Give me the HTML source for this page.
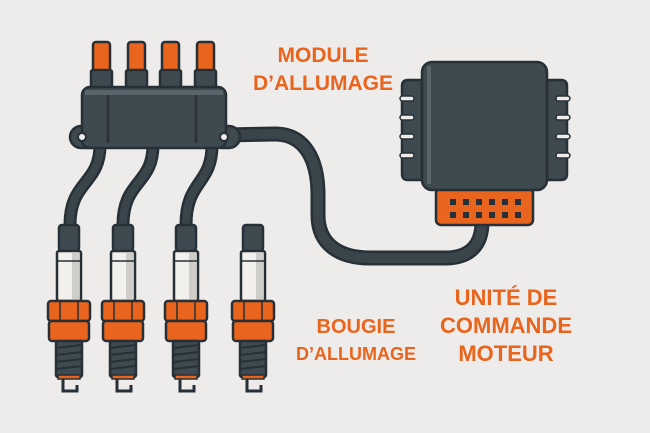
<!DOCTYPE html>
<html><head><meta charset="utf-8"><style>
html,body{margin:0;padding:0;background:#edecea;}
svg{display:block}
text{font-family:"Liberation Sans",sans-serif;font-weight:bold;fill:#e9641c;}
</style></head><body>
<svg width="650" height="433" viewBox="0 0 650 433" xmlns="http://www.w3.org/2000/svg">
<rect width="650" height="433" fill="#edecea"/>
<defs>
<g id="plug">
 <rect x="-10" y="0" width="20" height="26" rx="3" fill="#3f4950" stroke="#263036" stroke-width="2.5"/>
 <rect x="-12" y="26" width="24" height="50" rx="2" fill="#f2f0ec" stroke="#263036" stroke-width="2.5"/>
 <rect x="3" y="28" width="7" height="46" fill="#cfcdc9"/>
 <line x1="-11" y1="36" x2="11" y2="36" stroke="#263036" stroke-width="1.5"/>
 <rect x="-21" y="76" width="42" height="20" rx="3" fill="#e9641c" stroke="#263036" stroke-width="2.5"/>
 <rect x="-20" y="96" width="40" height="20" rx="3" fill="#e9641c" stroke="#263036" stroke-width="2.5"/>
 <line x1="-9" y1="77" x2="-9" y2="95" stroke="#263036" stroke-width="1.5"/>
 <line x1="9" y1="77" x2="9" y2="95" stroke="#263036" stroke-width="1.5"/>
 <rect x="-13" y="116" width="26" height="36" rx="2" fill="#3f4950" stroke="#263036" stroke-width="2.5"/>
 <g stroke="#263036" stroke-width="2">
  <line x1="-13" y1="123" x2="13" y2="120"/><line x1="-13" y1="130" x2="13" y2="127"/>
  <line x1="-13" y1="137" x2="13" y2="134"/><line x1="-13" y1="144" x2="13" y2="141"/>
 </g>
 <rect x="-11" y="150" width="22" height="4" fill="#e9641c" stroke="#263036" stroke-width="1.5"/>
 <path d="M-6,154 L-6,166 L8,166 L8,160" fill="none" stroke="#263036" stroke-width="3"/>
</g>
</defs>
<g fill="none" stroke-linecap="round">
 <path d="M100,145 C100,185 70,180 70,225" stroke="#263036" stroke-width="13"/>
 <path d="M153,145 C153,185 123,180 123,225" stroke="#263036" stroke-width="13"/>
 <path d="M212,145 C212,185 186,180 186,225" stroke="#263036" stroke-width="13"/>
 <path d="M100,145 C100,185 70,180 70,225" stroke="#3a444b" stroke-width="8"/>
 <path d="M153,145 C153,185 123,180 123,225" stroke="#3a444b" stroke-width="8"/>
 <path d="M212,145 C212,185 186,180 186,225" stroke="#3a444b" stroke-width="8"/>
 <path d="M225,135 L275,134 C305,134 318,160 318,195 L318,215 C318,245 340,258 370,258 L445,258 C470,258 482,245 482,222" stroke="#263036" stroke-width="15"/>
 <path d="M225,135 L275,134 C305,134 318,160 318,195 L318,215 C318,245 340,258 370,258 L445,258 C470,258 482,245 482,222" stroke="#3a444b" stroke-width="10"/>
</g>
<g stroke="#263036" stroke-width="2.5">
 <rect x="93" y="42" width="17" height="30" rx="3" fill="#e9641c"/>
 <rect x="128" y="42" width="17" height="30" rx="3" fill="#e9641c"/>
 <rect x="162" y="42" width="17" height="30" rx="3" fill="#e9641c"/>
 <rect x="197" y="42" width="17" height="30" rx="3" fill="#e9641c"/>
 <rect x="91" y="70" width="21" height="20" rx="2" fill="#3f4950"/>
 <rect x="126" y="70" width="21" height="20" rx="2" fill="#3f4950"/>
 <rect x="160" y="70" width="21" height="20" rx="2" fill="#3f4950"/>
 <rect x="195" y="70" width="21" height="20" rx="2" fill="#3f4950"/>
 <rect x="70" y="126" width="30" height="22" rx="11" fill="#3f4950"/>
 <rect x="210" y="126" width="30" height="22" rx="11" fill="#3f4950"/>
 <rect x="82" y="87" width="144" height="61" rx="8" fill="#3f4950"/>
</g>
<circle cx="82" cy="137" r="4" fill="#edecea" stroke="#263036" stroke-width="2"/>
<circle cx="224" cy="137" r="4" fill="#edecea" stroke="#263036" stroke-width="2"/>
<rect x="85" y="90" width="138" height="5" fill="#59646b"/>
<line x1="108" y1="95" x2="108" y2="143" stroke="#2c353b" stroke-width="3"/>
<line x1="196" y1="95" x2="196" y2="143" stroke="#2c353b" stroke-width="3"/>
<use href="#plug" x="69" y="225"/>
<use href="#plug" x="123" y="225"/>
<use href="#plug" x="186" y="225"/>
<use href="#plug" x="253" y="225"/>
<g stroke="#263036" stroke-width="2.5" fill="#3f4950">
 <path d="M422,80 L408,80 Q402,80 402,86 L402,174 Q402,180 408,180 L422,180 Z"/>
 <path d="M547,80 L561,80 Q567,80 567,86 L567,174 Q567,180 561,180 L547,180 Z"/>
 <rect x="436" y="188" width="97" height="37" rx="5" fill="#e9641c"/>
 <rect x="422" y="62" width="125" height="128" rx="10"/>
</g>
<g fill="#edecea" stroke="#263036" stroke-width="1.5">
 <rect x="400" y="96" width="14" height="5" rx="2.5"/><rect x="400" y="115" width="14" height="5" rx="2.5"/>
 <rect x="400" y="134" width="14" height="5" rx="2.5"/><rect x="400" y="153" width="14" height="5" rx="2.5"/>
 <rect x="556" y="96" width="14" height="5" rx="2.5"/><rect x="556" y="115" width="14" height="5" rx="2.5"/>
 <rect x="556" y="134" width="14" height="5" rx="2.5"/><rect x="556" y="153" width="14" height="5" rx="2.5"/>
</g>
<rect x="427" y="66" width="4" height="118" fill="#59646b"/>
<g fill="#263036">
 <rect x="450" y="199" width="6" height="6"/><rect x="463" y="199" width="6" height="6"/><rect x="476" y="199" width="6" height="6"/><rect x="489" y="199" width="6" height="6"/><rect x="502" y="199" width="6" height="6"/><rect x="515" y="199" width="6" height="6"/>
 <rect x="450" y="212" width="6" height="6"/><rect x="463" y="212" width="6" height="6"/><rect x="476" y="212" width="6" height="6"/><rect x="489" y="212" width="6" height="6"/><rect x="502" y="212" width="6" height="6"/><rect x="515" y="212" width="6" height="6"/>
</g>
<text x="323" y="62" font-size="21" text-anchor="middle">MODULE</text>
<text x="323" y="90" font-size="21" text-anchor="middle">D’ALLUMAGE</text>
<text x="356" y="333" font-size="20" text-anchor="middle">BOUGIE</text>
<text x="356" y="360" font-size="18" text-anchor="middle">D’ALLUMAGE</text>
<text x="506" y="305" font-size="22" text-anchor="middle">UNITÉ DE</text>
<text x="506" y="333" font-size="22" text-anchor="middle">COMMANDE</text>
<text x="506" y="361" font-size="22" text-anchor="middle">MOTEUR</text>
</svg>
</body></html>
